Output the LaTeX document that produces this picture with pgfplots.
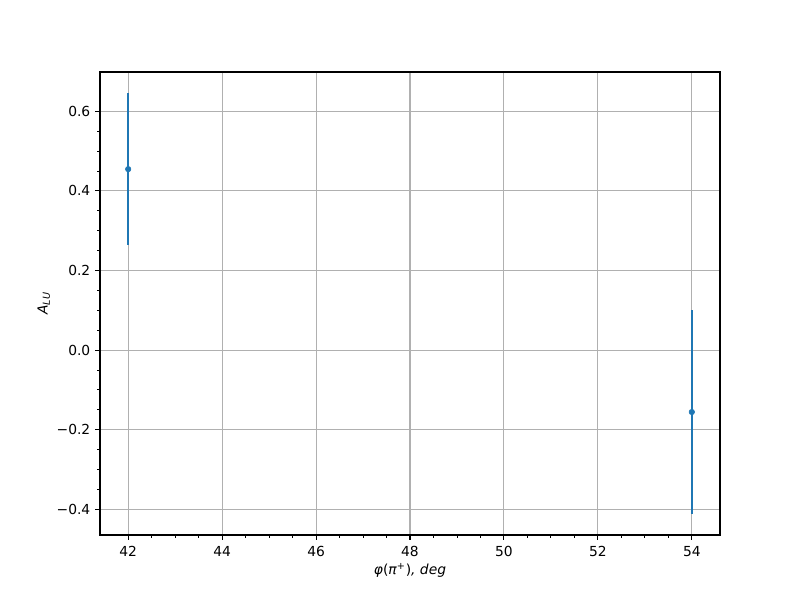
\documentclass[border=0pt]{standalone}
\usepackage{fontspec}
\setmainfont{DejaVu Sans}
\usepackage{pgfplots}
\pgfplotsset{compat=1.18}
\definecolor{tabblue}{HTML}{1F77B4}
\definecolor{gridgray}{HTML}{B0B0B0}
\begin{document}
\fontsize{10}{12}\selectfont
\begin{tikzpicture}
\begin{axis}[
  at={(0,0)}, anchor=south west,
  scale only axis,
  width=6.2in, height=4.63in,
  xmin=41.4, xmax=54.6,
  ymin=-0.4645, ymax=0.6985,
  xtick={42,44,46,48,50,52,54},
  ytick={-0.4,-0.2,0,0.2,0.4,0.6},
  yticklabels={−0.4,−0.2,0.0,0.2,0.4,0.6},
  minor x tick num=3,
  minor y tick num=3,
  xtick pos=bottom, ytick pos=left,
  tick align=outside,
  major tick length=3.5pt,
  minor tick length=2pt,
  every tick/.style={black, line width=0.8pt},
  minor tick style={line width=0.6pt},
  axis line style={line width=0.8pt},
  grid=major,
  major grid style={gridgray, line width=0.8pt},
  /pgf/number format/assume math mode=true,
  tick label style={font=\fontsize{10}{12}\selectfont},
  xticklabel style={yshift=-1pt},
  xlabel={\textit{φ}(\textit{π}\textsuperscript{+})\textit{, deg}},
  ylabel={\textit{A}\textsubscript{\textit{LU}}},
  label style={font=\fontsize{10}{12}\selectfont},
  xlabel style={yshift=2pt},
  ylabel style={yshift=-2pt},
  axis on top=false,
]
\addplot[
  tabblue, only marks, mark=*, mark size=2pt,
  error bars/.cd, y dir=both, y explicit, error mark=none,
  error bar style={tabblue, line width=1.5pt},
] coordinates {
  (42, 0.4545) +- (0, 0.190)
  (54, -0.1556) +- (0, 0.2555)
};
\end{axis}
\path[use as bounding box] (-1in,-0.65in) rectangle (7in,5.35in);
\end{tikzpicture}
\end{document}
